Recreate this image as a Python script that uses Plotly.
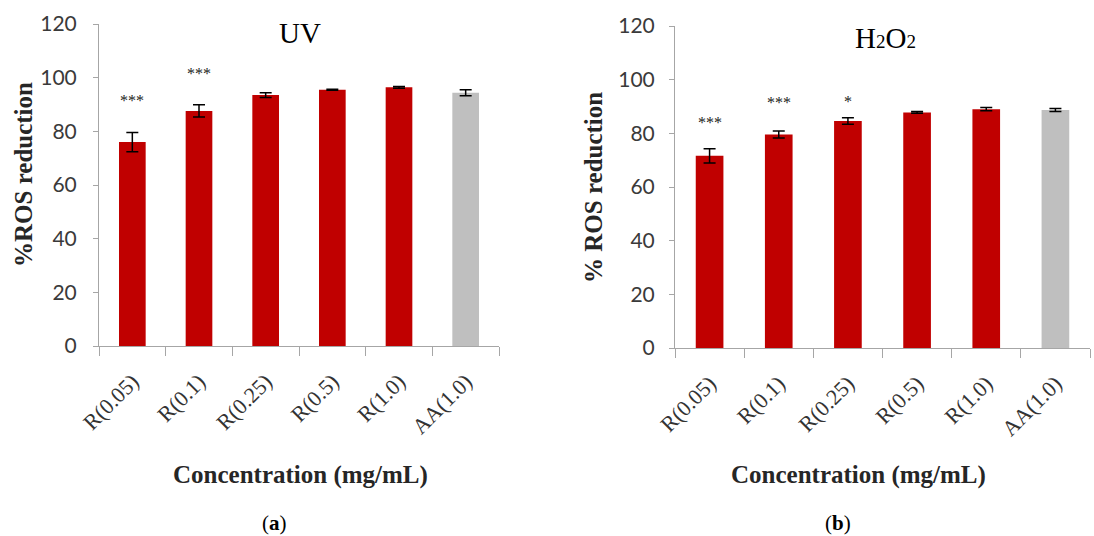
import plotly.graph_objects as go

# Sample labels (concentration in mg/mL)
categories = ["R(0.05)", "R(0.1)", "R(0.25)", "R(0.5)", "R(1.0)", "AA(1.0)"]

# (a) UV-induced ROS
uv_values = [76.0, 87.6, 93.5, 95.5, 96.4, 94.4]
uv_errors = [3.6, 2.3, 0.9, 0.2, 0.3, 1.1]
uv_sig = ["***", "***", "", "", "", ""]
uv_sig_y = [91.5, 101.5, None, None, None, None]

# (b) H2O2-induced ROS
h2o2_values = [71.6, 79.6, 84.6, 87.8, 89.0, 88.7]
h2o2_errors = [2.7, 1.3, 1.2, 0.3, 0.6, 0.6]
h2o2_sig = ["***", "***", "*", "", "", ""]
h2o2_sig_y = [84.0, 91.5, 92.0, None, None, None]

bar_colors = ["#C00000"] * 5 + ["#BFBFBF"]

W, H = 1094, 536
SERIF = "Liberation Serif, Times New Roman, serif"
SANS = "Lato, Carlito, Calibri, sans-serif"
AXIS_GREY = "#A6A6A6"


def px(x):
    return x / W


def py(y):
    return 1 - y / H


fig = go.Figure()

for values, errors, xa, ya in [
    (uv_values, uv_errors, "x", "y"),
    (h2o2_values, h2o2_errors, "x2", "y2"),
]:
    fig.add_trace(go.Bar(
        x=categories, y=values, xaxis=xa, yaxis=ya,
        marker=dict(color=bar_colors, line=dict(width=0)),
        width=0.4,
        error_y=dict(type="data", array=errors, visible=True,
                     color="black", thickness=1.5, width=6),
        showlegend=False,
    ))

axis_common = dict(
    showline=True, linecolor=AXIS_GREY, linewidth=1,
    showgrid=False, zeroline=False, automargin=False,
)
xaxis_common = dict(
    type="category", tickson="boundaries", ticks="outside", ticklen=9,
    tickcolor=AXIS_GREY, tickangle=-45, ticklabelstandoff=13,
    tickfont=dict(family=SERIF, size=22, color="#333333"),
    **axis_common,
)
yaxis_common = dict(
    range=[0, 120], tickvals=[0, 20, 40, 60, 80, 100, 120],
    ticks="outside", ticklen=5, tickcolor=AXIS_GREY,
    tickfont=dict(family=SANS, size=21, color="#3a3a3a"),
    **axis_common,
)

fig.update_layout(
    width=W, height=H,
    margin=dict(l=0, r=0, t=0, b=0, pad=0),
    paper_bgcolor="white", plot_bgcolor="white",
    xaxis=dict(domain=[px(99), px(499)], anchor="y", **xaxis_common),
    yaxis=dict(domain=[py(346), py(24)], anchor="x", ticklabelstandoff=12,
               **yaxis_common),
    xaxis2=dict(domain=[px(675), px(1090)], anchor="y2", **xaxis_common),
    yaxis2=dict(domain=[py(348), py(26)], anchor="x2", ticklabelstandoff=10,
                **yaxis_common),
)

annotations = []

# Significance markers above bars
for sig, sy, xr, yr in [(uv_sig, uv_sig_y, "x", "y"),
                        (h2o2_sig, h2o2_sig_y, "x2", "y2")]:
    for cat, s, yv in zip(categories, sig, sy):
        if s:
            annotations.append(dict(
                x=cat, y=yv, xref=xr, yref=yr, text=s, showarrow=False,
                xanchor="center", yanchor="middle",
                font=dict(family=SERIF, size=16, color="#222222"),
            ))

# Panel titles
annotations.append(dict(x=px(300), y=py(33), xref="paper", yref="paper",
                        text="UV", showarrow=False,
                        xanchor="center", yanchor="middle",
                        font=dict(family=SERIF, size=29, color="black")))
annotations.append(dict(x=px(885), y=py(38), xref="paper", yref="paper",
                        text='H<span style="font-size:19px">2</span>'
                             'O<span style="font-size:19px">2</span>',
                        showarrow=False, xanchor="center", yanchor="middle",
                        font=dict(family=SERIF, size=29, color="black")))

# Axis titles
for x0, y0, txt in [(23, 175, "<b>%ROS reduction</b>"),
                    (593, 188, "<b>% ROS reduction</b>")]:
    annotations.append(dict(x=px(x0), y=py(y0), xref="paper", yref="paper",
                            text=txt, showarrow=False, textangle=-90,
                            xanchor="center", yanchor="middle",
                            font=dict(family=SERIF, size=25, color="#262626")))
for x0 in (300, 858):
    annotations.append(dict(x=px(x0), y=py(475), xref="paper", yref="paper",
                            text="<b>Concentration (mg/mL)</b>", showarrow=False,
                            xanchor="center", yanchor="middle",
                            font=dict(family=SERIF, size=25, color="#262626")))

# Panel letters
for x0, letter in [(274, "a"), (838, "b")]:
    annotations.append(dict(x=px(x0), y=py(523), xref="paper", yref="paper",
                            text=f"(<b>{letter}</b>)", showarrow=False,
                            xanchor="center", yanchor="middle",
                            font=dict(family=SERIF, size=21, color="black")))

fig.update_layout(annotations=annotations)

fig.write_html("out.html")
